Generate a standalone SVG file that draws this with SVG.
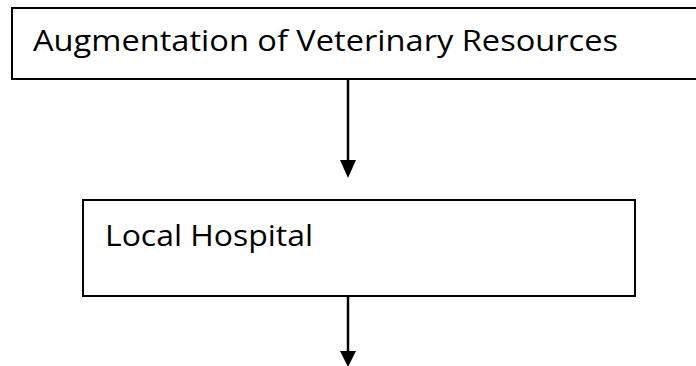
<svg xmlns="http://www.w3.org/2000/svg" width="696" height="366" viewBox="0 0 696 366">
  <style>
    .box { fill: #ffffff; stroke: #000000; stroke-width: 2; }
    .label { font-family: "Open Sans", "Noto Sans", sans-serif; font-size: 30px; fill: #000000; }
    .link { stroke: #000000; stroke-width: 2.5; fill: none; }
    .head { fill: #000000; }
  </style>
  <rect width="696" height="366" fill="#ffffff"/>

  <g id="node-augmentation">
    <rect class="box" x="12" y="8" width="700" height="71"/>
    <text class="label" x="33" y="51" textLength="585" lengthAdjust="spacingAndGlyphs">Augmentation of Veterinary Resources</text>
  </g>

  <g id="node-local-hospital">
    <rect class="box" x="83" y="200" width="552" height="96"/>
    <text class="label" x="105" y="246" textLength="208" lengthAdjust="spacingAndGlyphs">Local Hospital</text>
  </g>

  <g id="connectors">
    <path d="M348,80 V161" class="link"/>
    <path d="M340,160 L356,160 L348,178 Z" class="head"/>
    <path d="M348,297 V352" class="link"/>
    <path d="M340,351 L356,351 L348,367 Z" class="head"/>
  </g>
</svg>
